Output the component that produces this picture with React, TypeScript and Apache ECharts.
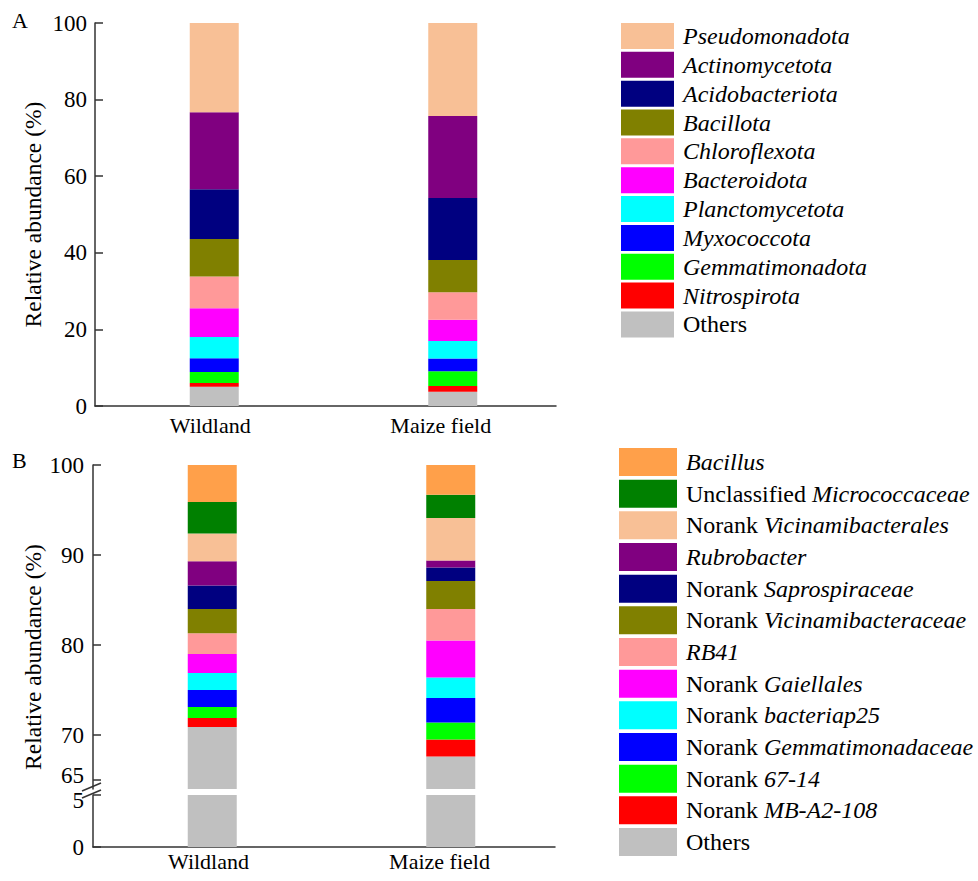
import React, { useEffect, useRef } from "react";
import * as echarts from "echarts";

const categories = ["Wildland", "Maize field"];

// Panel A (phyla), listed bottom-up in the stack
const phylaNames = [
  "Others",
  "Nitrospirota",
  "Gemmatimonadota",
  "Myxococcota",
  "Planctomycetota",
  "Bacteroidota",
  "Chloroflexota",
  "Bacillota",
  "Acidobacteriota",
  "Actinomycetota",
  "Pseudomonadota",
];
const phylaWildland = [5.0, 1.0, 2.9, 3.6, 5.5, 7.5, 8.3, 9.8, 13.0, 20.1, 23.3];
const phylaMaize = [3.7, 1.5, 3.9, 3.3, 4.6, 5.5, 7.2, 8.4, 16.2, 21.4, 24.3];

// Panel B (genera), listed bottom-up in the stack
const genusNames = [
  "Others",
  "Norank MB-A2-108",
  "Norank 67-14",
  "Norank Gemmatimonadaceae",
  "Norank bacteriap25",
  "Norank Gaiellales",
  "RB41",
  "Norank Vicinamibacteraceae",
  "Norank Saprospiraceae",
  "Rubrobacter",
  "Norank Vicinamibacterales",
  "Unclassified Micrococcaceae",
  "Bacillus",
];
const genusWildland = [70.9, 1.0, 1.2, 1.9, 1.9, 2.1, 2.3, 2.7, 2.6, 2.7, 3.1, 3.5, 4.1];
const genusMaize = [67.6, 1.9, 1.9, 2.7, 2.3, 4.1, 3.5, 3.1, 1.5, 0.8, 4.7, 2.6, 3.3];

const yTicksA = [0, 20, 40, 60, 80, 100];
const yTicksBUpper = [65, 70, 80, 90, 100];
const yTicksBLower = [0, 5];

const phylaColors = [
  "#C0C0C0", "#FF0000", "#00FF00", "#0000FF", "#00FFFF", "#FF00FF",
  "#FF9999", "#808000", "#000080", "#800080", "#F8C096",
];
const genusColors = [
  "#C0C0C0", "#FF0000", "#00FF00", "#0000FF", "#00FFFF", "#FF00FF",
  "#FF9999", "#808000", "#000080", "#800080", "#F8C096", "#008000", "#FFA04A",
];

const FONT = "Liberation Serif";
const AXIS = "#333";

function legendLabel(name: string): string {
  if (name === "Others") return name;
  const m = name.match(/^(Norank|Unclassified) (.+)$/);
  if (m) return m[1] + " {i|" + m[2] + "}";
  return "{i|" + name + "}";
}

export default function App() {
  const ref = useRef<HTMLDivElement>(null);
  useEffect(() => {
    if (!ref.current) return;
    const chart = echarts.init(ref.current, undefined, { renderer: "svg" });

    const seriesA = phylaNames.map((n, i) => ({
      name: n,
      type: "bar",
      stack: "A",
      xAxisIndex: 0,
      yAxisIndex: 0,
      barWidth: 49,
      itemStyle: { color: phylaColors[i] },
      data: [phylaWildland[i], phylaMaize[i]],
    }));
    const seriesB = genusNames.map((n, i) => ({
      name: n,
      type: "bar",
      stack: "B",
      xAxisIndex: 2,
      yAxisIndex: 2,
      barWidth: 49,
      clip: true,
      itemStyle: { color: genusColors[i] },
      data: [genusWildland[i], genusMaize[i]],
    }));
    const seriesBLower = {
      name: "Others",
      type: "bar",
      xAxisIndex: 3,
      yAxisIndex: 3,
      barWidth: 49,
      clip: true,
      itemStyle: { color: genusColors[0] },
      data: [genusWildland[0], genusMaize[0]],
    };

    const catLabel = { fontFamily: FONT, fontSize: 22, color: "#000" };
    const tickLabel = { fontFamily: FONT, fontSize: 23, color: "#000" };
    const legendCommon = {
      orient: "vertical",
      icon: "rect",
      padding: 0,
      selectedMode: false,
      formatter: legendLabel,
      textStyle: {
        fontFamily: FONT,
        fontSize: 24,
        color: "#000",
        padding: [0, 0, 0, 4],
        rich: { i: { fontFamily: FONT, fontSize: 24, fontStyle: "italic", color: "#000" } },
      },
    };

    const option: any = {
      animation: false,
      backgroundColor: "#fff",
      textStyle: { fontFamily: FONT },
      grid: [
        { left: 95, top: 23, width: 477, height: 383 }, // A bars
        { left: 95, top: 23, width: 461, height: 383 }, // A axis
        { left: 93, top: 465, width: 477, height: 324 }, // B upper bars
        { left: 93, top: 795, width: 477, height: 52 }, // B lower bars
        { left: 93, top: 795, width: 462, height: 52 }, // B axis
      ],
      xAxis: [
        { type: "category", gridIndex: 0, data: categories, show: false },
        {
          type: "category",
          gridIndex: 1,
          data: categories,
          axisLine: { show: true, lineStyle: { color: AXIS, width: 1.5 } },
          axisTick: { show: false },
          axisLabel: { ...catLabel, margin: 8 },
        },
        { type: "category", gridIndex: 2, data: categories, show: false },
        { type: "category", gridIndex: 3, data: categories, show: false },
        {
          type: "category",
          gridIndex: 4,
          data: categories,
          axisLine: { show: true, lineStyle: { color: AXIS, width: 1.5 } },
          axisTick: { show: false },
          axisLabel: { ...catLabel, margin: 3 },
        },
      ],
      yAxis: [
        {
          type: "value",
          gridIndex: 0,
          min: 0,
          max: 100,
          interval: 20,
          name: "Relative abundance (%)",
          nameLocation: "middle",
          nameGap: 50,
          nameTextStyle: { fontFamily: FONT, fontSize: 23.5, color: "#000" },
          axisLine: { show: true, lineStyle: { color: AXIS, width: 1.5 } },
          axisTick: { show: true, inside: true, length: 8, lineStyle: { color: AXIS, width: 1.5 }, customValues: yTicksA },
          axisLabel: { ...tickLabel, margin: 8, customValues: yTicksA },
          splitLine: { show: false },
        },
        { type: "value", gridIndex: 1, min: 0, max: 100, show: false, splitLine: { show: false } },
        {
          type: "value",
          gridIndex: 2,
          min: 64,
          max: 100,
          axisLine: { show: true, lineStyle: { color: AXIS, width: 1.5 } },
          axisTick: { show: true, inside: true, length: 8, lineStyle: { color: AXIS, width: 1.5 }, customValues: yTicksBUpper },
          axisLabel: {
            ...tickLabel,
            margin: 9,
            customValues: yTicksBUpper,
            formatter: (v: number) => (v === 65 ? "{up|65}" : String(v)),
            rich: { up: { fontFamily: FONT, fontSize: 23, color: "#000", padding: [0, 0, 9, 0] } },
          },
          splitLine: { show: false },
        },
        {
          type: "value",
          gridIndex: 3,
          min: 0,
          max: 5,
          interval: 5,
          axisLine: { show: true, lineStyle: { color: AXIS, width: 1.5 } },
          axisTick: { show: true, inside: true, length: 8, lineStyle: { color: AXIS, width: 1.5 }, customValues: yTicksBLower },
          axisLabel: {
            ...tickLabel,
            margin: 9,
            customValues: yTicksBLower,
            formatter: (v: number) => (v === 5 ? "{dn|5}" : String(v)),
            rich: { dn: { fontFamily: FONT, fontSize: 23, color: "#000", padding: [10, 0, 0, 0] } },
          },
          splitLine: { show: false },
        },
        { type: "value", gridIndex: 4, min: 0, max: 5, show: false, splitLine: { show: false } },
      ],
      legend: [
        {
          ...legendCommon,
          left: 621,
          top: 23,
          itemWidth: 53,
          itemHeight: 26,
          itemGap: 2.84,
          data: phylaNames.slice().reverse(),
        },
        {
          ...legendCommon,
          left: 619,
          top: 448,
          itemWidth: 58,
          itemHeight: 28,
          itemGap: 3.67,
          data: genusNames.slice().reverse(),
        },
      ],
      graphic: [
        { type: "text", left: 12, top: 9, style: { text: "A", fontFamily: FONT, fontSize: 22, fill: "#000" } },
        { type: "text", left: 12, top: 449, style: { text: "B", fontFamily: FONT, fontSize: 22, fill: "#000" } },
        {
          type: "text",
          x: 33,
          y: 657,
          rotation: Math.PI / 2,
          style: {
            text: "Relative abundance (%)",
            fontFamily: FONT,
            fontSize: 23.5,
            fill: "#000",
            textAlign: "center",
            textVerticalAlign: "middle",
          },
        },
        { type: "line", shape: { x1: 82, y1: 791, x2: 101, y2: 783 }, style: { stroke: AXIS, lineWidth: 1.5 } },
        { type: "line", shape: { x1: 82, y1: 798, x2: 101, y2: 790 }, style: { stroke: AXIS, lineWidth: 1.5 } },
      ],
      series: [...seriesA, ...seriesB, seriesBLower],
    };

    chart.setOption(option);
    return () => chart.dispose();
  }, []);

  return (
    <div
      ref={ref}
      style={{ position: "absolute", left: 0, top: 0, width: 978, height: 881 }}
    />
  );
}
